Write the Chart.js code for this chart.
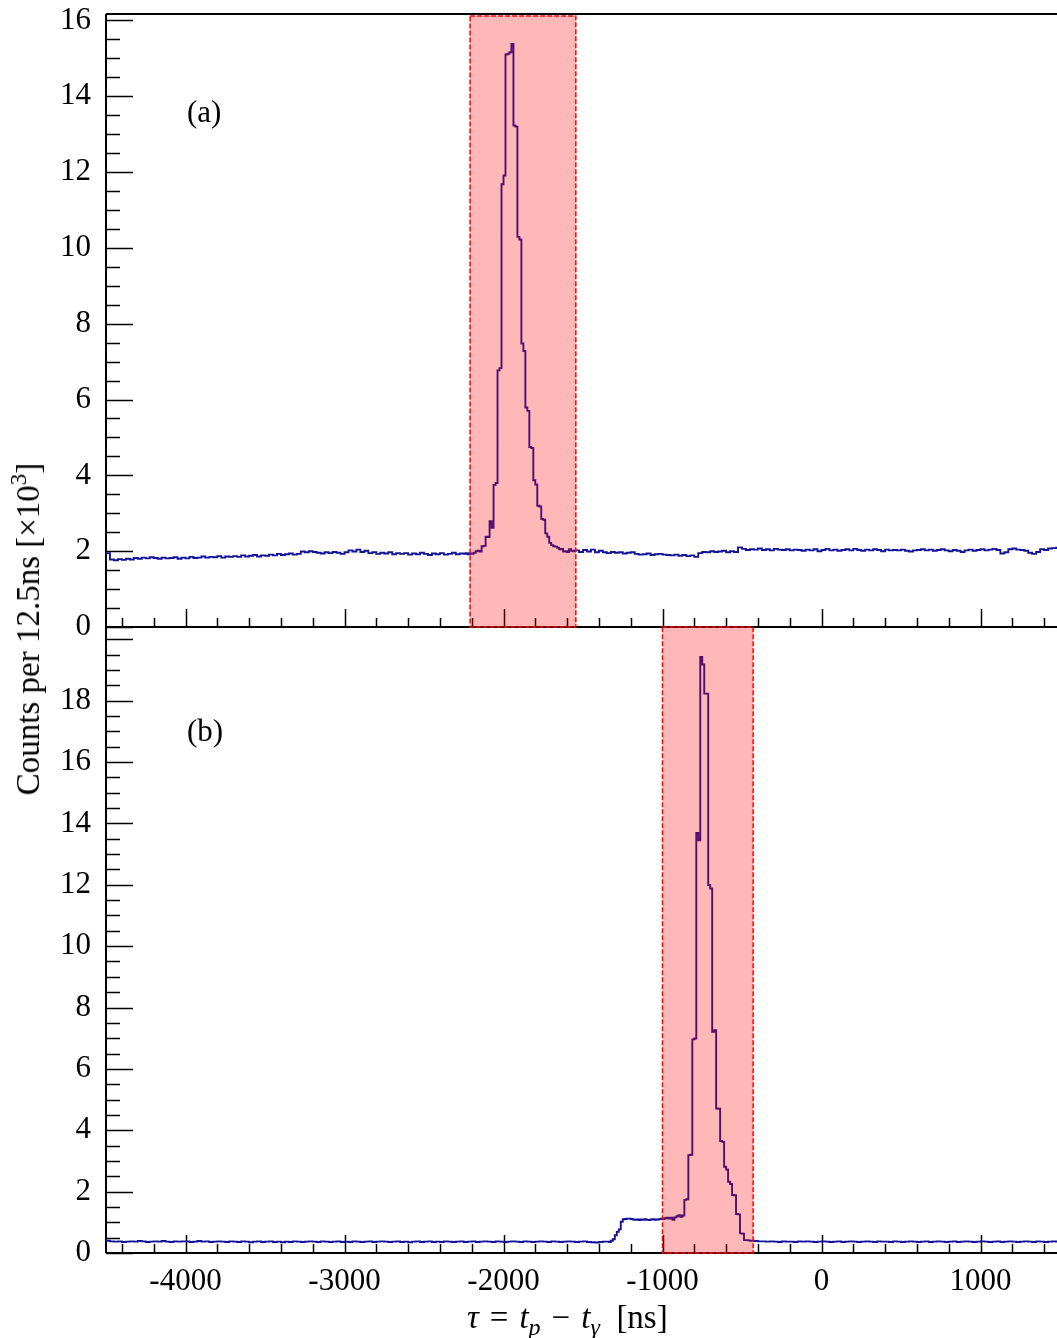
<!DOCTYPE html>
<html>
<head>
<meta charset="utf-8">
<script src="https://cdn.jsdelivr.net/npm/chart.js@4.4.0/dist/chart.umd.min.js"></script>
<style>
  html, body { margin: 0; padding: 0; background: #fff; overflow: hidden; }
  body { width: 1057px; height: 1338px; position: relative; font-family: 'Liberation Serif', 'DejaVu Serif', serif; }
  canvas { position: absolute; left: 0; }
  #topCanvas { top: 0; }
  #botCanvas { top: 614px; }
  .txt { position: absolute; font-size: 31px; color: #000; white-space: nowrap; line-height: 32px; }
  #ytitle { left: 28px; top: 629px; font-size: 33px; transform: translate(-50%, -50%) rotate(-90deg); }
  #xtitle { left: 467px; top: 1301px; font-size: 33px; }
  .op { margin: 0 11px; }
  sub { font-size: 24px; vertical-align: -7px; line-height: 0; }
  sup { font-size: 23px; vertical-align: 13px; line-height: 0; }
</style>
</head>
<body>
<canvas id="topCanvas" width="1062" height="640"></canvas>
<canvas id="botCanvas" width="1062" height="724"></canvas>
<div class="txt" style="left:187px; top:96px;">(a)</div>
<div class="txt" style="left:187px; top:715px;">(b)</div>
<div class="txt" id="ytitle">Counts per 12.5ns [×10<sup>3</sup>]</div>
<div class="txt" id="xtitle"><i>τ</i><span class="op">=</span><i>t</i><sub><i>p</i></sub><span class="op">−</span><i>t</i><sub><i>γ</i></sub>&nbsp;&nbsp;[ns]</div>
<script>
// x axis / bins
const xMin = -4500, xMax = 1500;
const xTickLabels = [-4000, -3000, -2000, -1000, 0, 1000];
const topYTicks = [0, 2, 4, 6, 8, 10, 12, 14, 16];
const botYTicks = [0, 2, 4, 6, 8, 10, 12, 14, 16, 18];

// panel (a): counts [x10^3], baseline in 25 ns bins, peak in 12.5 ns bins
const topLeftStart = -4500;
const topLeftBase = [
  1.95,
  1.78,1.76,1.79,1.77,1.80,1.78,
  1.82,1.80,1.83,1.81,1.84,1.82,1.80,1.83,1.81,
  1.82,1.84,1.80,1.83,1.81,1.85,1.82,1.83,
  1.86,1.83,1.85,1.84,1.87,1.83,1.86,1.85,
  1.87,1.85,1.89,1.86,1.88,1.90,1.86,1.89,1.88,
  1.91,1.89,1.93,1.90,1.92,1.94,1.91,1.93,
  1.99,1.97,2.00,1.98,
  1.96,1.94,1.97,1.95,1.98,1.96,1.93,1.97,
  2.02,1.99,2.04,1.98,2.01,
  1.95,1.97,1.93,1.96,1.94,1.97,1.92,1.95,
  1.93,1.95,1.91,1.94,1.92,1.96,1.93,1.90,
  1.94,1.92,1.95,1.91,1.93,1.96,1.92,1.94
];
const topPeakStart = -2250;
const topPeak = [
  1.93,1.95,1.92,1.94,1.93,1.96,2.00,2.01,1.99,2.13,
  2.14,2.38,2.37,2.79,2.62,3.75,3.80,6.77,6.83,11.68,
  11.91,15.10,15.12,15.16,15.38,13.23,13.20,10.29,10.22,7.48,
  7.28,5.79,5.70,4.75,4.72,3.87,3.76,3.20,3.18,2.85,
  2.83,2.47,2.38,2.22,2.16,2.13,2.12,2.09,2.05,2.06,
  1.99,2.00,1.98,2.05,2.01,2.00
];
const topRightStart = -1550;
const topRightBase = [
  2.02,1.98,2.03,1.99,2.04,1.97,2.01,
  1.97,1.95,1.98,1.96,1.97,1.94,1.96,1.97,
  1.93,1.91,1.92,1.94,1.90,1.92,1.93,1.91,
  1.90,1.89,1.91,1.88,1.90,1.87,1.89,1.85,
  1.95,1.98,1.97,2.00,1.98,1.99,2.01,1.97,2.00,1.98,
  2.10,
  2.06,2.03,2.05,2.04,2.07,2.03,2.05,2.02,2.06,2.04,2.03,2.05,2.02,2.04,
  2.03,2.01,2.04,2.02,2.05,2.00,2.03,2.06,2.02,2.04,
  2.01,2.03,2.05,2.02,2.06,2.03,2.01,2.04,2.02,2.05,
  2.03,2.00,2.04,2.02,2.03,
  2.02,2.04,2.01,1.99,2.02,2.03,2.05,2.02,2.04,2.01,
  2.03,2.05,2.02,2.00,2.03,2.01,1.98,2.02,2.04,2.01,
  2.03,2.05,2.02,2.04,2.06,2.03,1.94,1.97,2.05,2.07,
  2.04,2.03,2.01,1.96,1.93,1.98,2.05,2.03,2.07,2.08,
  2.09
];

// panel (b)
const botLeftStart = -4500;
const botLeftBase = [
  0.40,0.38,0.37,0.38,0.36,0.37,0.38,0.37,0.39,0.38,
  0.36,0.37,0.38,0.37,0.39,0.37,0.36,0.38,0.37,0.38,
  0.38,0.36,0.37,0.39,0.37,0.38,0.36,0.37,0.38,0.37,
  0.36,0.38,0.37,0.36,0.38,0.37,0.35,0.37,0.38,0.36,
  0.37,0.38,0.36,0.37,0.35,0.37,0.36,0.38,0.37,0.36,
  0.37,0.38,0.37,0.36,0.38,0.37,0.36,0.37,0.38,0.36,
  0.37,0.36,0.38,0.37,0.36,0.37,0.38,0.36,0.37,0.38,
  0.37,0.36,0.37,0.38,0.36,0.37,0.35,0.37,0.38,0.36,
  0.37,0.38,0.36,0.37,0.36,0.38,0.37,0.36,0.37,0.38,
  0.36,0.37,0.38,0.36,0.37,0.38,0.37,0.36,0.38,0.37,
  0.36,0.37,0.38,0.37,0.36,0.38,0.37,0.36,0.37,0.38,
  0.37,0.36,0.38,0.37,0.36,0.37,0.38,0.37,0.36,0.37,
  0.38,0.36,0.35,0.34,0.36,0.37
];
const botPeakStart = -1350;
const botPeak = [
  0.37,0.36,0.40,0.45,0.58,0.69,0.77,1.02,1.10,1.11,
  1.12,1.12,1.11,1.09,1.08,1.09,1.07,1.09,1.08,1.10,
  1.08,1.07,1.09,1.10,1.08,1.09,1.10,1.12,1.11,1.13,
  1.15,1.12,1.15,1.08,1.16,1.20,1.23,1.18,1.22,1.73,
  1.75,3.19,3.20,6.96,6.99,13.69,13.45,19.42,19.18,18.23,
  18.23,11.99,11.88,7.21,7.26,4.71,4.70,3.65,3.62,2.81,
  2.72,2.32,2.25,1.89,1.88,1.27,1.26,0.64,0.63,0.42,
  0.42,0.41
];
const botRightStart = -450;
const botRightBase = [
  0.40,0.39,0.38,0.38,0.37,0.38,0.37,0.36,0.38,0.37,
  0.37,0.36,0.38,0.37,0.38,0.37,0.36,0.37,0.38,0.37,
  0.36,0.37,0.38,0.36,0.37,0.38,0.37,0.36,0.37,0.38,
  0.37,0.36,0.38,0.37,0.37,0.36,0.38,0.37,0.36,0.37,
  0.38,0.37,0.36,0.37,0.38,0.36,0.37,0.38,0.37,0.36,
  0.37,0.38,0.36,0.37,0.38,0.37,0.36,0.37,0.38,0.37,
  0.36,0.37,0.38,0.36,0.37,0.38,0.37,0.36,0.37,0.38,
  0.37,0.36,0.38,0.37,0.36,0.37,0.38,0.37
];

// selection windows (ns)
const topWindow = [-2210, -1545];
const botWindow = [-1000, -430];

const fineBin = 12.5, coarseBin = 25;

function histPoints(segments) {
  const pts = [];
  segments.forEach(([start, width, vals]) => {
    vals.forEach((v, i) => pts.push({ x: start + i * width, y: v }));
  });
  pts.push({ x: xMax, y: pts[pts.length - 1].y });
  return pts;
}

const topPoints = histPoints([
  [topLeftStart, coarseBin, topLeftBase],
  [topPeakStart, fineBin, topPeak],
  [topRightStart, coarseBin, topRightBase]
]);
const botPoints = histPoints([
  [botLeftStart, coarseBin, botLeftBase],
  [botPeakStart, fineBin, botPeak],
  [botRightStart, coarseBin, botRightBase]
]);

const tickFont = { family: "'Liberation Serif', 'DejaVu Serif', serif", size: 31 };

// frame, inside ticks (ROOT style) and the shaded window
function panelPlugin(win, yMaxTick, drawTop) {
  return {
    id: 'panel',
    beforeDatasetsDraw(chart) {
      const { ctx, chartArea: a, scales } = chart;
      ctx.save();
      ctx.strokeStyle = '#000';
      ctx.lineWidth = 1.5;
      ctx.beginPath();
      for (let v = 0; v <= yMaxTick + 0.01; v += 0.5) {
        const y = Math.round(scales.y.getPixelForValue(v)) + 0.5;
        const len = (v % 2 === 0) ? 27 : 14;
        ctx.moveTo(a.left, y); ctx.lineTo(a.left + len, y);
      }
      for (let v = -4400; v <= 1400; v += 200) {
        const x = Math.round(scales.x.getPixelForValue(v)) + 0.5;
        const len = (v % 1000 === 0) ? 18 : 9;
        ctx.moveTo(x, a.bottom); ctx.lineTo(x, a.bottom - len);
      }
      ctx.stroke();
      ctx.lineWidth = 2;
      ctx.beginPath();
      ctx.moveTo(a.left, a.top); ctx.lineTo(a.left, a.bottom);
      ctx.moveTo(a.left, a.bottom); ctx.lineTo(a.right, a.bottom);
      if (drawTop) { ctx.moveTo(a.left, a.top); ctx.lineTo(a.right, a.top); }
      ctx.stroke();
      ctx.restore();
    },
    afterDatasetsDraw(chart) {
      const { ctx, chartArea: a, scales } = chart;
      const x0 = scales.x.getPixelForValue(win[0]);
      const x1 = scales.x.getPixelForValue(win[1]);
      const y0 = a.top + (drawTop ? 2 : 0);
      ctx.save();
      ctx.fillStyle = 'rgba(255, 0, 0, 0.28)';
      ctx.fillRect(x0, y0, x1 - x0, a.bottom - y0);
      ctx.strokeStyle = '#ff0000';
      ctx.lineWidth = 1.5;
      ctx.setLineDash([5, 2]);
      ctx.strokeRect(x0, y0, x1 - x0, a.bottom - y0);
      ctx.restore();
    }
  };
}

function makeChart(id, points, yMax, yTicks, win, drawTop, showX, pad) {
  return new Chart(document.getElementById(id), {
    type: 'line',
    data: {
      datasets: [{
        data: points,
        stepped: true,
        borderColor: '#12129a',
        borderWidth: 1.9,
        pointRadius: 0,
        fill: false
      }]
    },
    options: {
      responsive: false,
      animation: false,
      layout: { padding: pad },
      plugins: { legend: { display: false }, tooltip: { enabled: false } },
      scales: {
        x: {
          type: 'linear',
          min: xMin,
          max: xMax,
          display: showX,
          grid: { display: false },
          border: { display: false },
          afterBuildTicks: s => { s.ticks = xTickLabels.map(v => ({ value: v })); },
          afterFit: s => {
            if (showX) s.height = 85;
            s.paddingLeft = 0; s.paddingRight = 0;
          },
          ticks: {
            font: tickFont, color: '#000', padding: 2, maxRotation: 0, autoSkip: false,
            callback: v => String(v)
          }
        },
        y: {
          min: 0,
          max: yMax,
          grid: { display: false },
          border: { display: false },
          afterBuildTicks: s => { s.ticks = yTicks.map(v => ({ value: v })); },
          afterFit: s => { s.width = 106; s.paddingTop = 0; s.paddingBottom = 0; },
          ticks: { font: tickFont, color: '#000', padding: 7 }
        }
      }
    },
    plugins: [panelPlugin(win, yMax, drawTop)]
  });
}

makeChart('topCanvas', topPoints, 16.17, topYTicks, topWindow, true, false,
  { top: 14, bottom: 13, left: 0, right: 2 });
makeChart('botCanvas', botPoints, 20.4, botYTicks, botWindow, false, true,
  { top: 13, bottom: 0, left: 0, right: 2 });
</script>
</body>
</html>
